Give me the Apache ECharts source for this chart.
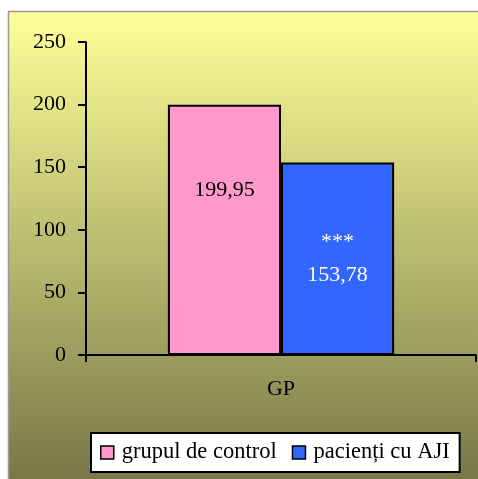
<!DOCTYPE html>
<html>
<head>
<meta charset="utf-8">
<script src="https://cdn.jsdelivr.net/npm/echarts@6/dist/echarts.min.js"></script>
<style>html,body{margin:0;padding:0;background:#fff}#c{width:478px;height:479px}</style>
</head>
<body>
<div id="c"></div>
<script>
var categories = ['GP'];
var seriesNames = ['grupul de control', 'pacienți cu AJI'];
var controlValues = [199.95];
var patientValues = [153.78];
var yTicks = [0, 50, 100, 150, 200, 250];

var fmt = function (v) { return String(v).replace('.', ','); };
var font = '"Liberation Serif", "Times New Roman", serif';

var chart = echarts.init(document.getElementById('c'), null, {renderer: 'canvas'});
chart.setOption({
  backgroundColor: '#ffffff',
  animation: false,
  graphic: [{
    type: 'rect', z: -10, silent: true,
    shape: {x: 8.5, y: 11.5, width: 480, height: 480},
    style: {
      fill: new echarts.graphic.LinearGradient(0, 0, 0, 1, [
        {offset: 0, color: '#FFFF99'},
        {offset: 1, color: '#747446'}
      ]),
      stroke: '#9a9a9a', lineWidth: 1.5
    }
  }],
  grid: {left: 86, right: 2, top: 42, bottom: 124},
  legend: {
    data: seriesNames,
    left: 91, top: 433,
    orient: 'horizontal',
    backgroundColor: '#ffffff',
    borderColor: '#000000', borderWidth: 2,
    padding: [8, 10, 8, 9],
    itemWidth: 13, itemHeight: 13, itemGap: 15,
    icon: 'rect',
    itemStyle: {borderColor: '#000', borderWidth: 1.5},
    textStyle: {fontFamily: font, fontSize: 22.5, color: '#000', padding: [0, 0, 0, 3]}
  },
  xAxis: {
    type: 'category',
    data: categories,
    axisLine: {lineStyle: {color: '#000', width: 2}},
    axisTick: {show: true, length: 7, lineStyle: {color: '#000', width: 2}},
    axisLabel: {fontFamily: font, fontSize: 22, color: '#000', margin: 23},
    splitLine: {show: false}
  },
  yAxis: {
    type: 'value',
    min: yTicks[0], max: yTicks[yTicks.length - 1], interval: 50,
    axisLine: {show: true, lineStyle: {color: '#000', width: 2}},
    axisTick: {show: true, length: 8, lineStyle: {color: '#000', width: 2}},
    axisLabel: {fontFamily: font, fontSize: 22, color: '#000', margin: 20},
    splitLine: {show: false}
  },
  series: [{
    name: seriesNames[0],
    type: 'bar',
    data: controlValues,
    barGap: '0%',
    barCategoryGap: '42%',
    itemStyle: {color: '#FF99CC', borderColor: '#000', borderWidth: 2},
    label: {
      show: true, position: 'inside', offset: [0, -40],
      fontFamily: font, fontSize: 22, color: '#000',
      formatter: function (p) { return fmt(p.value); }
    }
  }, {
    name: seriesNames[1],
    type: 'bar',
    data: patientValues,
    itemStyle: {color: '#3366FF', borderColor: '#000', borderWidth: 2},
    label: {
      show: true, position: 'inside', offset: [0, 0],
      fontFamily: font, fontSize: 22, color: '#fff', lineHeight: 33,
      formatter: function (p) { return '***\n' + fmt(p.value); }
    }
  }]
});
</script>
</body>
</html>
